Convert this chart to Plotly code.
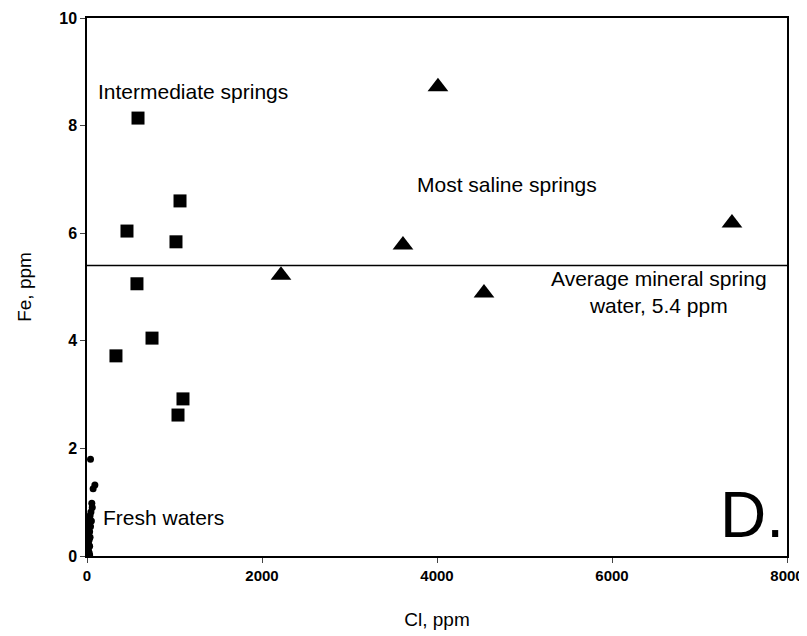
"""Fe vs Cl scatter for spring waters (panel D)."""

import plotly.graph_objects as go

# Fresh waters (small dots near the origin)
fresh_cl = [40, 90, 70, 55, 60, 45, 35, 30, 50, 25, 40, 20, 30, 15, 35,
            25, 10, 20, 30, 15, 10, 20, 25, 15, 30]
fresh_fe = [1.8, 1.32, 1.25, 0.98, 0.9, 0.82, 0.75, 0.7, 0.65, 0.6, 0.55,
            0.5, 0.45, 0.4, 0.35, 0.3, 0.28, 0.22, 0.18, 0.15, 0.1, 0.08,
            0.05, 0.03, 0.02]

# Intermediate springs (squares)
inter_cl = [583, 457, 1063, 1017, 571, 743, 331, 1097, 1040]
inter_fe = [8.14, 6.04, 6.60, 5.84, 5.06, 4.05, 3.72, 2.92, 2.62]

# Most saline springs (triangles)
saline_cl = [4011, 7371, 3611, 2217, 4537]
saline_fe = [8.72, 6.19, 5.78, 5.22, 4.89]

avg_fe = 5.4
x_range = [0, 8000]
x_ticks = [0, 2000, 4000, 6000, 8000]
y_ticks = [0, 2, 4, 6, 8, 10]

FONT = "Liberation Sans, Arial, sans-serif"

fig = go.Figure()
fig.add_trace(go.Scatter(x=x_range, y=[avg_fe, avg_fe], mode="lines",
                         line=dict(color="black", width=1.5)))
fig.add_trace(go.Scatter(x=fresh_cl, y=fresh_fe, mode="markers",
                         marker=dict(symbol="circle", size=7, color="black")))
fig.add_trace(go.Scatter(x=inter_cl, y=inter_fe, mode="markers",
                         marker=dict(symbol="square", size=13, color="black")))
fig.add_trace(go.Scatter(x=saline_cl, y=saline_fe, mode="markers",
                         marker=dict(symbol="triangle-up", size=18, color="black")))

labels = [
    (1211, 8.64, "Intermediate springs", 21),
    (4800, 6.91, "Most saline springs", 21),
    (6537, 4.9, "Average mineral spring<br>water, 5.4 ppm", 21),
    (869, 0.72, "Fresh waters", 21),
    (7600, 0.76, "D.", 64),
]
for x, y, txt, size in labels:
    fig.add_annotation(x=x, y=y, text=txt, showarrow=False,
                       font=dict(family=FONT, size=size, color="black"))

# page body adds an 8px offset, so the figure is sized to fit inside it
fig.update_layout(
    width=799, height=628,
    margin=dict(l=79, r=20, t=10, b=80),
    paper_bgcolor="white", plot_bgcolor="white",
    showlegend=False,
    font=dict(family=FONT, color="black"),
)
fig.update_xaxes(
    range=x_range, tickvals=x_ticks, ticks="outside", ticklen=5,
    showline=True, mirror=True, linecolor="black", linewidth=1.5,
    showgrid=False, zeroline=False, automargin=False,
    ticklabeloverflow="allow",
    tickfont=dict(size=15, color="black", weight="bold"),
    title=dict(text="Cl, ppm", font=dict(size=19), standoff=30),
)
fig.update_yaxes(
    range=[0, 10], tickvals=y_ticks, ticks="outside", ticklen=5,
    showline=True, mirror=True, linecolor="black", linewidth=1.5,
    showgrid=False, zeroline=False, automargin=False,
    tickfont=dict(size=16, color="black", weight="bold"),
    title=dict(text="Fe, ppm", font=dict(size=19), standoff=23),
)

fig.write_html("out.html")
